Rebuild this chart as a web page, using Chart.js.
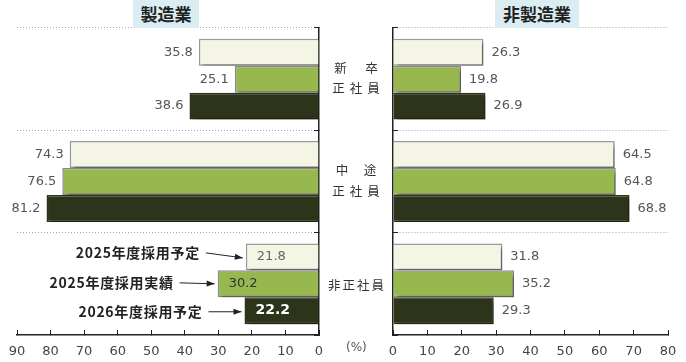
<!DOCTYPE html>
<html><head><meta charset="utf-8">
<script src="https://cdn.jsdelivr.net/npm/chart.js@4"></script>
<style>
body{margin:0;width:686px;height:362px;background:#fff;position:relative;overflow:hidden;font-family:"Noto Sans CJK JP",sans-serif}
#cl{position:absolute;left:0;top:0}
#cr{position:absolute;left:340px;top:0}
.title{position:absolute;top:0;height:28px;line-height:28px;background:#daedf3;text-align:center;font-weight:bold;font-size:17px;color:#222}
.mid{position:absolute;font-size:12.5px;color:#333;width:80px;left:316px;height:20px;line-height:20px;text-align:center;white-space:nowrap}
.pct{position:absolute;left:346px;top:340px;font-size:12px;color:#555;font-family:"DejaVu Sans",sans-serif}
</style></head>
<body>
<canvas id="cl" width="340" height="362"></canvas>
<canvas id="cr" width="346" height="362"></canvas>
<div class="title" style="left:133px;width:66px">製造業</div>
<div class="title" style="left:495px;width:84px">非製造業</div>
<div class="mid" style="top:58px;letter-spacing:3px;text-indent:3px">新　卒</div>
<div class="mid" style="top:78px;letter-spacing:5px;text-indent:5px">正社員</div>
<div class="mid" style="top:160px;letter-spacing:1.5px;text-indent:1.5px">中　途</div>
<div class="mid" style="top:181px;letter-spacing:5px;text-indent:5px">正社員</div>
<div class="mid" style="top:275px;letter-spacing:2px;text-indent:2px">非正社員</div>
<div class="pct">(%)</div>
<script>
// ---- data ----
const categories = ['新卒正社員', '中途正社員', '非正社員'];
const seriesLabels = ['2025年度採用予定', '2025年度採用実績', '2026年度採用予定'];
const mfgPlan2025   = [35.8, 74.3, 21.8];
const mfgActual2025 = [25.1, 76.5, 30.2];
const mfgPlan2026   = [38.6, 81.2, 22.2];
const nonPlan2025   = [26.3, 64.5, 31.8];
const nonActual2025 = [19.8, 64.8, 35.2];
const nonPlan2026   = [26.9, 68.8, 29.3];
const mfgAxisMax = 90;
const nonAxisMax = 80;
const axisStep = 10;

// ---- styles ----
const fills = ['#f4f5e5', '#96b84f', '#2c3519'];
const borders = ['#9a9a9a', '#8a8a8a', '#2c3519'];
const numFont = '13px "DejaVu Sans", sans-serif';

function makeDatasets(a, b, c) {
  return [a, b, c].map((d, i) => ({
    label: seriesLabels[i],
    data: d,
    backgroundColor: fills[i],
    borderColor: borders[i],
    borderWidth: 1.5,
    borderSkipped: 'start',
    categoryPercentage: 0.79,
    barPercentage: 1.0
  }));
}

const shadowPlugin = {
  id: 'shadow',
  beforeDatasetsDraw(chart) {
    const ctx = chart.ctx;
    ctx.save();
    ctx.shadowColor = 'rgba(0,0,0,0.38)';
    ctx.shadowOffsetX = 3;
    ctx.shadowOffsetY = 3;
    ctx.shadowBlur = 3;
  },
  afterDatasetsDraw(chart) { chart.ctx.restore(); }
};

const labelPlugin = {
  id: 'vlabels',
  afterDraw(chart, args, opts) {
    const ctx = chart.ctx;
    ctx.save();
    ctx.textBaseline = 'middle';
    chart.data.datasets.forEach((ds, di) => {
      const meta = chart.getDatasetMeta(di);
      meta.data.forEach((el, i) => {
        const v = ds.data[i].toFixed(1);
        const inside = opts.insideIndex === i;
        if (opts.side === 'left') {
          if (inside) {
            ctx.fillStyle = opts.insideColors[di];
            ctx.font = di === 2 ? 'bold 14px "DejaVu Sans", sans-serif' : numFont;
            ctx.textAlign = 'left';
            ctx.fillText(v, el.x + 11, el.y);
          } else {
            ctx.fillStyle = '#555';
            ctx.font = numFont;
            ctx.textAlign = 'right';
            ctx.fillText(v, el.x - 6, el.y);
          }
        } else {
          ctx.fillStyle = '#555';
          ctx.font = numFont;
          ctx.textAlign = 'left';
          ctx.fillText(v, el.x + 8, el.y);
        }
      });
    });
    ctx.restore();
  }
};

const legendArrowPlugin = {
  id: 'legendArrows',
  afterDraw(chart, args, opts) {
    const ctx = chart.ctx;
    ctx.save();
    chart.data.datasets.forEach((ds, di) => {
      const el = chart.getDatasetMeta(di).data[opts.categoryIndex];
      const endX = el.x - 3;
      const endY = el.y + opts.endDy[di];
      const startX = endX - opts.arrowLen[di];
      const startY = el.y + opts.textDy[di];
      ctx.strokeStyle = '#222';
      ctx.fillStyle = '#222';
      ctx.lineWidth = 1;
      ctx.beginPath();
      ctx.moveTo(startX, startY);
      ctx.lineTo(endX, endY);
      ctx.stroke();
      const ang = Math.atan2(endY - startY, endX - startX);
      ctx.beginPath();
      ctx.moveTo(endX, endY);
      ctx.lineTo(endX - 8 * Math.cos(ang) + 3 * Math.sin(ang), endY - 8 * Math.sin(ang) - 3 * Math.cos(ang));
      ctx.lineTo(endX - 8 * Math.cos(ang) - 3 * Math.sin(ang), endY - 8 * Math.sin(ang) + 3 * Math.cos(ang));
      ctx.closePath();
      ctx.fill();
      ctx.font = 'bold 14px "Noto Sans CJK JP", sans-serif';
      try { ctx.letterSpacing = '0.7px'; } catch (e) {}
      ctx.textAlign = 'right';
      ctx.textBaseline = 'middle';
      ctx.fillText(ds.label, startX - 6, startY);
      try { ctx.letterSpacing = '0px'; } catch (e) {}
    });
    ctx.restore();
  }
};

function xScale(max, reverse, heightFix) {
  return {
    type: 'linear', min: 0, max: max, reverse: reverse, position: 'bottom',
    ticks: { stepSize: axisStep, color: '#444', font: { family: 'DejaVu Sans', size: 13 }, padding: 14, maxRotation: 0, autoSkip: false },
    grid: { drawOnChartArea: false, drawTicks: true, tickLength: -5, tickColor: '#222', tickWidth: 1 },
    border: { display: true, color: '#222', width: 1.5 },
    afterFit: s => { s.height = heightFix; s.paddingLeft = 0; s.paddingRight = 0; }
  };
}
function yScale(pos, widthFix) {
  return {
    type: 'category', position: pos, offset: true,
    ticks: { display: false },
    grid: {
      offset: true, drawOnChartArea: true, drawTicks: true, tickLength: -5,
      color: c => (c.index === undefined ? 'rgba(0,0,0,0)' : '#a8a8a8'),
      lineWidth: 1, tickColor: '#222', tickWidth: 1
    },
    border: { display: true, color: '#222', width: 1.5, dash: [1, 2] },
    afterFit: s => { s.width = widthFix; s.paddingTop = 0; s.paddingBottom = 0; }
  };
}

const common = {
  responsive: false, animation: false, indexAxis: 'y',
  plugins: { legend: { display: false }, tooltip: { enabled: false } }
};

new Chart(document.getElementById('cl'), {
  type: 'bar',
  data: { labels: categories, datasets: makeDatasets(mfgPlan2025, mfgActual2025, mfgPlan2026) },
  options: Object.assign({}, common, {
    layout: { padding: { left: 17, right: 0, top: 28, bottom: 0 } },
    scales: { x: xScale(mfgAxisMax, true, 27), y: yScale('right', 21) },
    plugins: Object.assign({}, common.plugins, {
      vlabels: { side: 'left', insideIndex: 2, insideColors: ['#666', '#333', '#fff'] },
      legendArrows: { categoryIndex: 2, textDy: [-4, -1, 1], endDy: [1, 0, 1], arrowLen: [37, 35, 33] }
    })
  }),
  plugins: [shadowPlugin, labelPlugin, legendArrowPlugin]
});

new Chart(document.getElementById('cr'), {
  type: 'bar',
  data: { labels: categories, datasets: makeDatasets(nonPlan2025, nonActual2025, nonPlan2026) },
  options: Object.assign({}, common, {
    layout: { padding: { left: 0, right: 18, top: 28, bottom: 0 } },
    scales: { x: xScale(nonAxisMax, false, 27), y: yScale('left', 53) },
    plugins: Object.assign({}, common.plugins, {
      vlabels: { side: 'right', insideIndex: -1 }
    })
  }),
  plugins: [shadowPlugin, labelPlugin]
});
</script>
</body></html>
